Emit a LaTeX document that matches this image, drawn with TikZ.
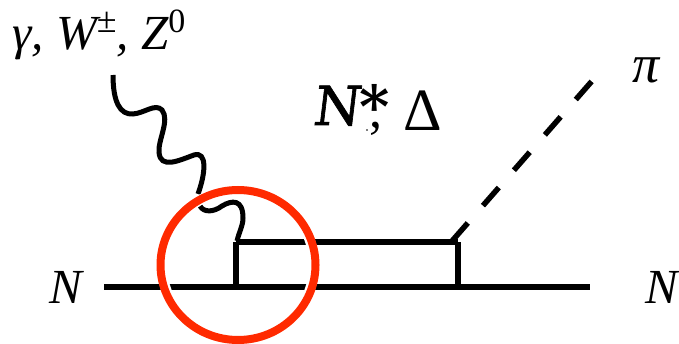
\documentclass[tikz,border=0pt]{standalone}
\usepackage{fontspec}
\setmainfont{Liberation Serif}
\newfontfamily\slabfont[FakeSlant=0.12,FakeBold=1.2]{DejaVu Serif}
\newfontfamily\starfont{DejaVu Serif}
\begin{document}
\begin{tikzpicture}[x=1pt,y=-1pt,
  lbl/.style={inner sep=0pt,anchor=base west,font=\fontsize{49}{52}\selectfont\itshape},
  big/.style={inner sep=0pt,anchor=base west},
  fermion/.style={line width=5.5pt,black},
  boson/.style={line width=5pt,black,line cap=butt},
  pion/.style={line width=5.5pt,black,dash pattern=on 24pt off 23pt},
  ring/.style={line width=8pt,draw={rgb,255:red,255;green,42;blue,0}},
  halo/.style={line width=10pt,white}]
\useasboundingbox (0,0) rectangle (679,344);
% labels
\node[lbl] (gauge) at (12,50) {γ, W\raisebox{.36em}{\fontsize{36}{38}\selectfont\upshape±}, Z\raisebox{.36em}{\fontsize{34}{36}\selectfont\upshape 0}};
\node[lbl] (Nin) at (49,303) {N};
\node[lbl] (Nout) at (645,303) {N};
\node[lbl,font=\fontsize{54}{56}\selectfont\itshape] (pi) at (632,83) {π};
\node[big,font=\fontsize{54}{58}\selectfont\slabfont] (Nstar) at (312,125) {N};
\node[big,font=\fontsize{58}{60}\selectfont\starfont\bfseries] (star) at (359,128) {*};
\node[big,font=\fontsize{52}{54}\selectfont] (comma) at (369,128) {,};
\node[big,font=\fontsize{60}{62}\selectfont] (delta) at (403,131) {Δ};
\fill[gray] (365.5,129.5) rectangle (368,131);
% anchor points
\coordinate (a) at (104,287);
\coordinate (b) at (590,287);
\coordinate (c) at (236,287);
\coordinate (d) at (458,287);
\coordinate (e) at (236,242);
\coordinate (f) at (458,242);
\coordinate (g) at (452,241);
\coordinate (h) at (592,81);
\coordinate (w0) at (113,75);
\coordinate (w1) at (198,194);
\coordinate (w2) at (200,206);
% fermion lines
\draw[fermion] (a) -- (b);
\draw[fermion] (e) -- (f);
\draw[fermion,line cap=square] (c) -- (e);
\draw[fermion] (d) -- (f);
% boson
\draw[boson] (w0) .. controls (113,102) and (120,115) .. (133,114)
  .. controls (145,113) and (155,103) .. (162,110)
  .. controls (170,120) and (158,140) .. (159,152)
  .. controls (160,170) and (180,160) .. (194,155)
  .. controls (207,151) and (206,172) .. (198,194);
\draw[boson] (w2) .. controls (204,213) and (214,212) .. (222,206)
  .. controls (232,200) and (243,199) .. (243,218)
  .. controls (243,226) and (239,232) .. (237,241);
% pion
\draw[pion] (g) -- (h);
% ring
\coordinate (o) at (238,265);
\draw[halo] (o) ellipse[x radius=76,y radius=75];
\draw[ring] (o) ellipse[x radius=77.5,y radius=75];
\end{tikzpicture}
\end{document}
